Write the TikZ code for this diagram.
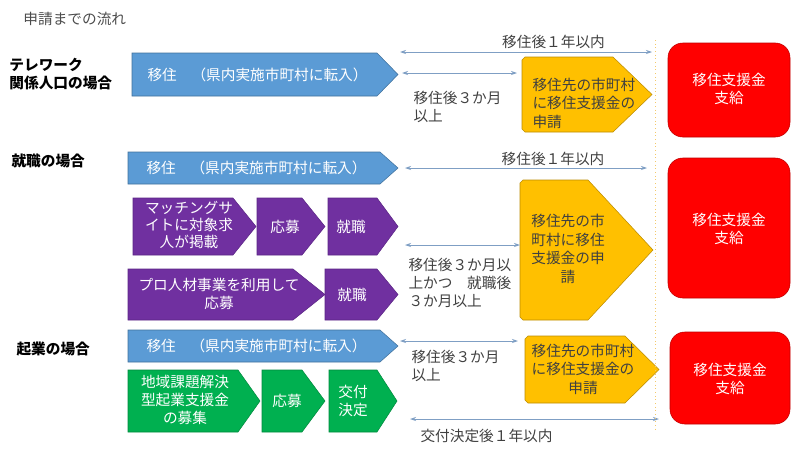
\documentclass[tikz,border=0pt]{standalone}
\usepackage{fontspec}
\setmainfont{Noto Sans CJK JP}
\usetikzlibrary{arrows.meta}

\definecolor{moveblue}{HTML}{5B9BD5}
\definecolor{moveline}{HTML}{41719C}
\definecolor{jobpurple}{HTML}{7030A0}
\definecolor{jobline}{HTML}{5B2585}
\definecolor{startgreen}{HTML}{00B050}
\definecolor{startline}{HTML}{00893E}
\definecolor{applyorange}{HTML}{FFC000}
\definecolor{applyline}{HTML}{BC8C00}
\definecolor{payred}{HTML}{FF0000}
\definecolor{payline}{HTML}{C00000}
\definecolor{spanblue}{HTML}{7F9FC4}
\definecolor{limitorange}{HTML}{F4C96A}

\tikzset{every picture/.style={line width=0.75pt}}
\tikzset{
  txt/.style={inner sep=0.75pt, font=\fontsize{11}{13.5}\selectfont},
  wtxt/.style={txt, text=white, align=center},
  dtxt/.style={txt, text=black!75},
  lbl/.style={inner sep=0.75pt, align=left, font=\fontsize{11}{13.5}\selectfont\bfseries},
  movebox/.style={fill=moveblue, draw=moveline, line width=0.4pt},
  jobbox/.style={fill=jobpurple, draw=jobline, line width=0.4pt},
  startbox/.style={fill=startgreen, draw=startline, line width=0.4pt},
  applybox/.style={fill=applyorange, draw=applyline, line width=0.4pt},
  paybox/.style={fill=payred, draw=payline, line width=0.4pt, rounded corners=11pt},
  span/.style={draw=spanblue, line width=0.6pt, {Stealth[length=4.5pt,width=3pt]}-{Stealth[length=4.5pt,width=3pt]}},
  limit/.style={draw=limitorange, line width=0.75pt, dotted}
}

\begin{document}
\begin{tikzpicture}[x=0.75pt,y=0.75pt,yscale=-1,xscale=1]
\path[use as bounding box] (0,0) rectangle (800,450);

% Title
\draw (22,19) node [anchor=west][txt, text=black!70] (title) {申請までの流れ};

%%% telework
% Text Node
\draw (8,74) node [anchor=west][lbl] (case1) {テレワーク\\関係人口の場合};
%Shape: Pentagon
\draw [movebox] (132,53) -- (377,53) -- (398,74.5) -- (377,96) -- (132,96) -- cycle ;
\draw (146,74.5) node [anchor=west][wtxt] (move1) {移住　（県内実施市町村に転入）};
%Shape: Pentagon
\draw [applybox] (525,57) -- (613,57) -- (652,94.5) -- (613,132) -- (525,132) -- (522,129) -- (522,60) -- cycle ;
\draw (531,103) node [anchor=west][dtxt, align=left, font=\fontsize{11}{13.9}\selectfont] (apply1) {移住先の市町村\\に移住支援金の\\申請};
%Rounded Rect
\draw [paybox] (668,43) rectangle (790,137) ;
\draw (729,89) node [wtxt] (pay1) {移住支援金\\支給};
%Straight Lines
\coordinate (y1a) at (400,52);
\coordinate (y1b) at (652,52);
\draw [span] (y1a) -- (y1b) ;
\coordinate (m1a) at (402,73);
\coordinate (m1b) at (517,73);
\draw [span] (m1a) -- (m1b) ;
% Text Node
\draw (553.5,42) node [dtxt] (year1) {移住後１年以内};
\draw (412,107) node [anchor=west][dtxt, align=left] (month1) {移住後３か月\\以上};

%%% job
% Text Node
\draw (10,161) node [anchor=west][lbl] (case2) {就職の場合};
%Shape: Pentagon
\draw [movebox] (128,152) -- (380,152) -- (398,168) -- (380,184) -- (128,184) -- cycle ;
\draw (145,168) node [anchor=west][wtxt] (move2) {移住　（県内実施市町村に転入）};
%Shape: Pentagon
\draw [jobbox] (133,198) -- (233,198) -- (256,226.5) -- (233,255) -- (133,255) -- cycle ;
\draw (189,225) node [wtxt, font=\fontsize{11}{12.8}\selectfont] (site) {マッチングサ\\イトに対象求\\人が掲載};
\draw [jobbox] (257,198) -- (302,198) -- (325,226.5) -- (302,255) -- (257,255) -- cycle ;
\draw (285,226.5) node [wtxt] (apply2a) {応募};
\draw [jobbox] (328,198) -- (377,198) -- (398,226.5) -- (377,255) -- (328,255) -- cycle ;
\draw (351,226.5) node [wtxt] (work2a) {就職};
%Shape: Pentagon
\draw [jobbox] (128,269) -- (293,269) -- (325,294.5) -- (293,320) -- (128,320) -- cycle ;
\draw (219,294) node [wtxt] (pro) {プロ人材事業を利用して\\応募};
\draw [jobbox] (325,269) -- (377,269) -- (398,294.5) -- (377,320) -- (325,320) -- cycle ;
\draw (352,294.5) node [wtxt] (work2b) {就職};
%Shape: Pentagon
\draw [applybox] (523,180) -- (588,180) -- (653,250) -- (588,320) -- (523,320) -- (520,317) -- (520,183) -- cycle ;
\draw (568,249) node [dtxt, align=center, font=\fontsize{11}{13.9}\selectfont] (apply2) {移住先の市\\町村に移住\\支援金の申\\請};
%Rounded Rect
\draw [paybox] (668,158) rectangle (790,298) ;
\draw (729,229) node [wtxt] (pay2) {移住支援金\\支給};
%Straight Lines
\coordinate (y2a) at (405,168);
\coordinate (y2b) at (647,168);
\draw [span] (y2a) -- (y2b) ;
\coordinate (m2a) at (405,245);
\coordinate (m2b) at (520,245);
\draw [span] (m2a) -- (m2b) ;
% Text Node
\draw (553,159) node [dtxt] (year2) {移住後１年以内};
\draw (407,283) node [anchor=west][dtxt, align=left] (month2) {移住後３か月以\\上かつ　就職後\\３か月以上};

%%% startup
% Text Node
\draw (15,349) node [anchor=west][lbl] (case3) {起業の場合};
%Shape: Pentagon
\draw [movebox] (128,330) -- (380,330) -- (398,346) -- (380,362) -- (128,362) -- cycle ;
\draw (145,346) node [anchor=west][wtxt] (move3) {移住　（県内実施市町村に転入）};
%Shape: Pentagon
\draw [startbox] (128,370) -- (238,370) -- (260,401) -- (238,432) -- (128,432) -- cycle ;
\draw (185,400) node [wtxt] (fund) {地域課題解決\\型起業支援金\\の募集};
\draw [startbox] (262,370) -- (302,370) -- (325,401) -- (302,432) -- (262,432) -- cycle ;
\draw (287,401) node [wtxt] (apply3a) {応募};
\draw [startbox] (329,370) -- (377,370) -- (397,401) -- (377,432) -- (329,432) -- cycle ;
\draw (353,401) node [wtxt] (grant) {交付\\決定};
%Shape: Pentagon
\draw [applybox] (528,336) -- (625,336) -- (659,369.5) -- (625,403) -- (528,403) -- (525,400) -- (525,339) -- cycle ;
\draw (583,369) node [dtxt, align=center, font=\fontsize{11}{13.9}\selectfont] (apply3) {移住先の市町村\\に移住支援金の\\申請};
%Rounded Rect
\draw [paybox] (670,332) rectangle (790,424) ;
\draw (730,379) node [wtxt] (pay3) {移住支援金\\支給};
%Straight Lines
\coordinate (m3a) at (400,341);
\coordinate (m3b) at (518,341);
\draw [span] (m3a) -- (m3b) ;
\coordinate (y3a) at (410,419);
\coordinate (y3b) at (659,419);
\draw [span] (y3a) -- (y3b) ;
% Text Node
\draw (410,366) node [anchor=west][dtxt, align=left] (month3) {移住後３か月\\以上};
\draw (419,436) node [anchor=west][dtxt] (year3) {交付決定後１年以内};

%Dotted Line
\coordinate (lim1) at (655,40);
\coordinate (lim2) at (655,432);
\draw [limit] (lim1) -- (lim2) ;

\end{tikzpicture}
\end{document}
